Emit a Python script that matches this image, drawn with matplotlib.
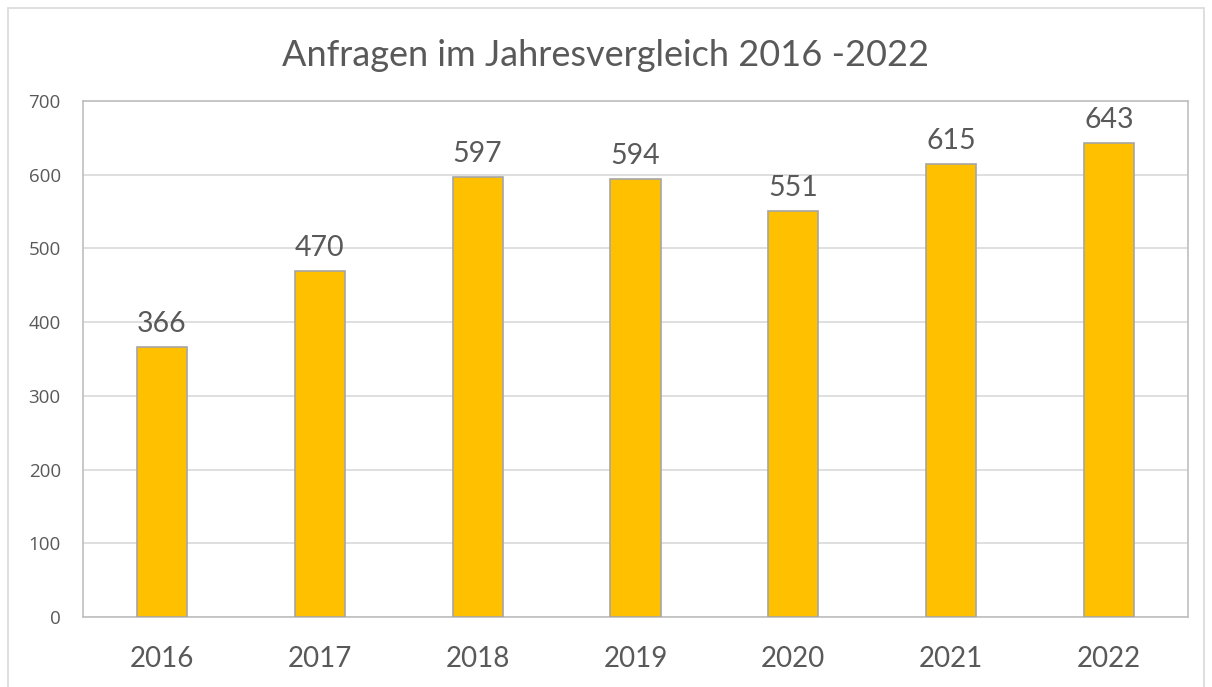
import matplotlib
matplotlib.use('Agg')
import matplotlib.pyplot as plt
import numpy as np
from matplotlib.patches import Rectangle

# Daten
jahre = ['2016', '2017', '2018', '2019', '2020', '2021', '2022']
anfragen = [366, 470, 597, 594, 551, 615, 643]
y_ticks = [0, 100, 200, 300, 400, 500, 600, 700]

text_color = '#595959'
bar_color = '#FFC000'
edge_color = '#A6A6A6'

fig = plt.figure(figsize=(12.12, 6.87), dpi=100)
ax = fig.add_axes([83 / 1212, 1 - 617 / 687, (1188 - 83) / 1212, (617 - 101) / 687])

x = np.arange(len(jahre))
bars = ax.bar(x, anfragen, width=0.317, color=bar_color, edgecolor=edge_color,
              linewidth=1.2, zorder=3)

# Werte ueber den Balken
for b, v in zip(bars, anfragen):
    ax.annotate(str(v), (b.get_x() + b.get_width() / 2, v), xytext=(0, 7),
                textcoords='offset points', ha='center', va='bottom',
                fontsize=20.5, color=text_color, family='Lato')

ax.set_xlim(-0.5, len(jahre) - 0.5)
ax.set_ylim(0, 700)
ax.set_yticks(y_ticks)
ax.set_yticklabels([str(t) for t in y_ticks], fontsize=13.5, color=text_color,
                   family='Open Sans')
ax.set_xticks(x)
ax.set_xticklabels(jahre, fontsize=20, color=text_color, family='Lato')
ax.tick_params(axis='y', length=0, pad=16)
ax.tick_params(axis='x', length=0, pad=21)
ax.grid(axis='y', color='#D9D9D9', linewidth=1.2, zorder=0)
for s in ax.spines.values():
    s.set_color('#BFBFBF')
    s.set_linewidth(1.2)

fig.text(0.5, 1 - 55 / 687, 'Anfragen im Jahresvergleich 2016 -2022',
         ha='center', va='center', fontsize=26, color=text_color, family='Lato')

# Rahmen um das Diagramm
fig.patches.append(Rectangle((8 / 1212, -0.05), (1204 - 8) / 1212, 1.05 - 8 / 687,
                             transform=fig.transFigure, fill=False,
                             edgecolor='#D9D9D9', linewidth=1.2))

plt.savefig('out.png', dpi=100, facecolor='white')
plt.close()
